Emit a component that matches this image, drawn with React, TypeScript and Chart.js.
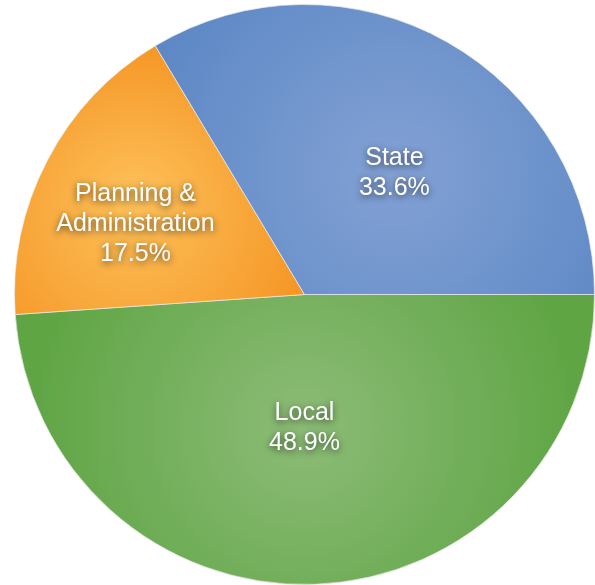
import React, { useEffect, useRef } from "react";
import { Chart, registerables } from "chart.js";

Chart.register(...registerables);

const categories = ["Local", "Planning & Administration", "State"];
const labelLines = [["Local"], ["Planning &", "Administration"], ["State"]];
const values = [48.9, 17.5, 33.6];
const edgeColors = ["#5fa544", "#f4901e", "#5b87c4"];
const lightColors = ["#8dbc78", "#fdc15a", "#83a1d5"];
const labelRadiusFraction = [0.46, 0.63, 0.52];
const labelAngleShift = [2, -5, 7];

function geometry(chart: any) {
  const ca = chart.chartArea;
  const cx = (ca.left + ca.right) / 2;
  const cy = (ca.top + ca.bottom) / 2;
  const R = Math.min(ca.right - ca.left, ca.bottom - ca.top) / 2;
  const total = values.reduce((a, b) => a + b, 0);
  let a = 0;
  const mids: number[] = [];
  values.forEach((v) => {
    const span = (v / total) * Math.PI * 2;
    mids.push(a + span / 2);
    a += span;
  });
  return { cx, cy, R, mids };
}

function labelPos(chart: any, i: number) {
  const { cx, cy, R, mids } = geometry(chart);
  const ang = mids[i] + (labelAngleShift[i] * Math.PI) / 180;
  const r = R * labelRadiusFraction[i];
  return { x: cx + r * Math.cos(ang), y: cy + r * Math.sin(ang), R };
}

const labelPlugin = {
  id: "sliceLabels",
  afterDatasetsDraw(chart: any) {
    const ctx = chart.ctx;
    ctx.save();
    ctx.font = "25px 'Liberation Sans', Arial, sans-serif";
    ctx.textAlign = "center";
    ctx.textBaseline = "middle";
    ctx.fillStyle = "#ffffff";
    ctx.shadowColor = "rgba(0,0,0,0.65)";
    ctx.shadowBlur = 7;
    ctx.shadowOffsetX = 0;
    ctx.shadowOffsetY = 2;
    values.forEach((v, i) => {
      const { x, y } = labelPos(chart, i);
      const lines = [...labelLines[i], v.toFixed(1) + "%"];
      const lh = 30;
      const y0 = y - ((lines.length - 1) * lh) / 2;
      lines.forEach((t, k) => ctx.fillText(t, x, y0 + k * lh));
    });
    ctx.restore();
  },
};

export default function App() {
  const ref = useRef<HTMLCanvasElement>(null);
  useEffect(() => {
    if (!ref.current) return;
    const chart = new Chart(ref.current, {
      type: "pie",
      data: {
        labels: categories,
        datasets: [
          {
            data: values,
            backgroundColor: (c: any) => {
              const chart = c.chart;
              const i = c.dataIndex;
              if (!chart.chartArea || i === undefined) return edgeColors[i ?? 0];
              const { x, y, R } = labelPos(chart, i);
              const g = chart.ctx.createRadialGradient(x, y - (i === 1 ? 25 : 0), 0, x, y, R * (i === 1 ? 0.7 : 0.95));
              g.addColorStop(0, lightColors[i]);
              g.addColorStop(1, edgeColors[i]);
              return g;
            },
            borderColor: "rgba(235,235,235,0.7)",
            borderWidth: 1,
          },
        ],
      },
      options: {
        responsive: false,
        maintainAspectRatio: false,
        animation: false,
        rotation: 90,
        layout: { padding: { left: 14, top: 4, right: 0, bottom: 0 } },
        plugins: {
          legend: { display: false },
          tooltip: { enabled: false },
          title: { display: false },
        },
      },
      plugins: [labelPlugin],
    });
    return () => chart.destroy();
  }, []);
  return (
    <div style={{ position: "absolute", left: 0, top: 0, width: 595, height: 585, background: "#fff" }}>
      <canvas ref={ref} width={595} height={585} style={{ width: 595, height: 585 }} />
    </div>
  );
}
